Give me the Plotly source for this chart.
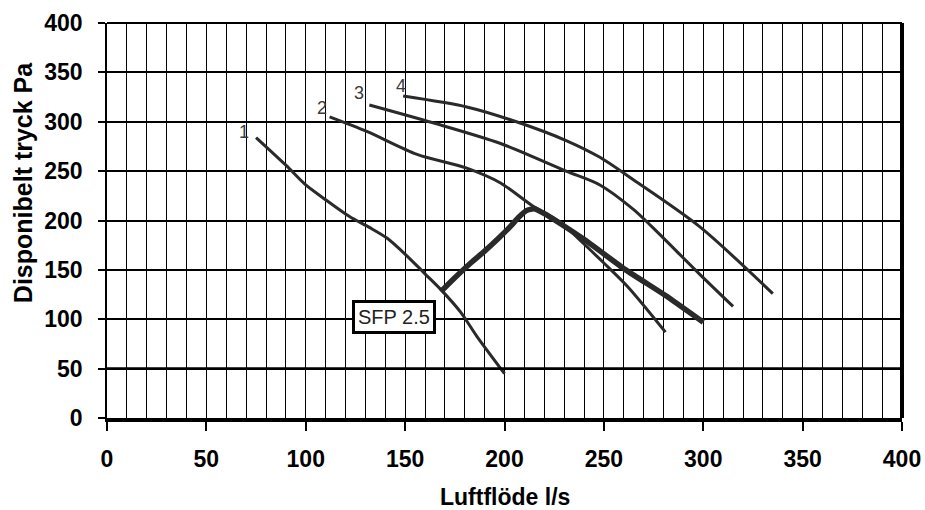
import plotly.graph_objects as go

# ---- data ----
c1_x = [75, 90, 100, 110, 122, 132, 141, 151, 160, 168, 178, 186, 200]
c1_y = [284, 256, 236, 221, 204, 193, 182, 164, 146, 130, 107, 83, 45]

c2_x = [112, 131, 156, 181, 198, 214, 229, 238, 250, 262, 281]
c2_y = [305, 290, 267, 253, 238, 215, 197, 180, 157, 133, 87]

c3_x = [132, 164, 198, 231, 248, 265, 274, 298, 315]
c3_y = [317, 299, 278, 250, 236, 211, 194, 146, 113]

c4_x = [149, 181, 206, 231, 248, 265, 298, 335]
c4_y = [326, 315, 300, 281, 264, 241, 194, 126]

sfp_x = [168, 175, 183, 190, 197, 203, 207, 211, 215, 221, 240, 261, 281, 300]
sfp_y = [128, 142, 157, 169, 182, 194, 203, 210, 212, 206, 181, 150, 124, 97]

curve_labels = ["1", "2", "3", "4"]
label_x = [69, 108, 127, 148]
label_y = [290, 314, 329, 336]

sfp_text = "SFP 2.5"
sfp_label_x = 144.5
sfp_label_y = 102

ref_line_y = 50
x_range = [0, 400]
y_range = [0, 400]

x_title = "Luftflöde l/s"
y_title = "Disponibelt tryck Pa"

FONT = "Liberation Sans, Arial, sans-serif"
LINE = "#2a2a2a"

fig = go.Figure()
for xs, ys in [(c1_x, c1_y), (c2_x, c2_y), (c3_x, c3_y), (c4_x, c4_y)]:
    fig.add_trace(go.Scatter(x=xs, y=ys, mode="lines",
                             line=dict(color=LINE, width=3, shape="spline", smoothing=0.8),
                             showlegend=False, hoverinfo="skip"))
fig.add_trace(go.Scatter(x=sfp_x, y=sfp_y, mode="lines",
                         line=dict(color=LINE, width=5.5, shape="spline", smoothing=0.5),
                         showlegend=False, hoverinfo="skip"))

for t, lx, ly in zip(curve_labels, label_x, label_y):
    fig.add_annotation(x=lx, y=ly, text=t, showarrow=False,
                       font=dict(family=FONT, size=18, color="#3a3a3a"))

fig.add_annotation(x=sfp_label_x, y=sfp_label_y, text=sfp_text, showarrow=False,
                   font=dict(family=FONT, size=20, color="#222222"),
                   bgcolor="white", bordercolor="black", borderwidth=3, borderpad=3)

# axis titles placed as paper annotations
fig.add_annotation(xref="paper", yref="paper", x=0.5, y=-0.2, xanchor="center", yanchor="middle",
                   text="<b>" + x_title + "</b>",
                   showarrow=False, font=dict(family=FONT, size=23, color="black"))
fig.add_annotation(xref="paper", yref="paper", x=-0.1057, y=0.597, xanchor="center", yanchor="middle",
                   text="<b>" + y_title + "</b>",
                   textangle=-90, showarrow=False, font=dict(family=FONT, size=25, color="black"))

# reference line at 50 Pa and frame edges
fig.add_shape(type="line", xref="paper", yref="y", x0=0, x1=1, y0=ref_line_y, y1=ref_line_y,
              line=dict(color="black", width=2.6), layer="above")
fig.add_shape(type="line", xref="paper", yref="paper", x0=1, x1=1, y0=0, y1=1,
              line=dict(color="black", width=4), layer="above")
fig.add_shape(type="line", xref="paper", yref="paper", x0=0, x1=1, y0=1, y1=1,
              line=dict(color="black", width=1.8), layer="above")

fig.update_layout(
    width=925, height=510,
    margin=dict(l=107, r=23, t=23, b=92, autoexpand=False),
    paper_bgcolor="white", plot_bgcolor="white",
    font=dict(family=FONT, color="black"),
)
fig.update_xaxes(
    range=x_range, dtick=50, tick0=0, automargin=False,
    showgrid=True, gridcolor="black", gridwidth=1.3,
    minor=dict(dtick=10, showgrid=True, gridcolor="black", gridwidth=1.3, ticks=""),
    showline=True, linecolor="black", linewidth=3.5,
    ticks="outside", ticklen=9, tickwidth=1.5, tickcolor="black",
    ticklabelstandoff=9,
    tickfont=dict(family=FONT, size=23, color="black", weight="bold"),
    zeroline=False,
)
fig.update_yaxes(
    range=y_range, dtick=50, tick0=0, automargin=False,
    showgrid=True, gridcolor="black", gridwidth=1.5,
    showline=True, linecolor="black", linewidth=1.8,
    ticks="outside", ticklen=7, tickwidth=1.5, tickcolor="black",
    ticklabelstandoff=11,
    tickfont=dict(family=FONT, size=23, color="black", weight="bold"),
    zeroline=False,
)

fig.write_html(
    "out.html",
    config={"displayModeBar": False},
    post_script="document.body.style.margin='0';document.body.style.overflow='hidden';",
)
